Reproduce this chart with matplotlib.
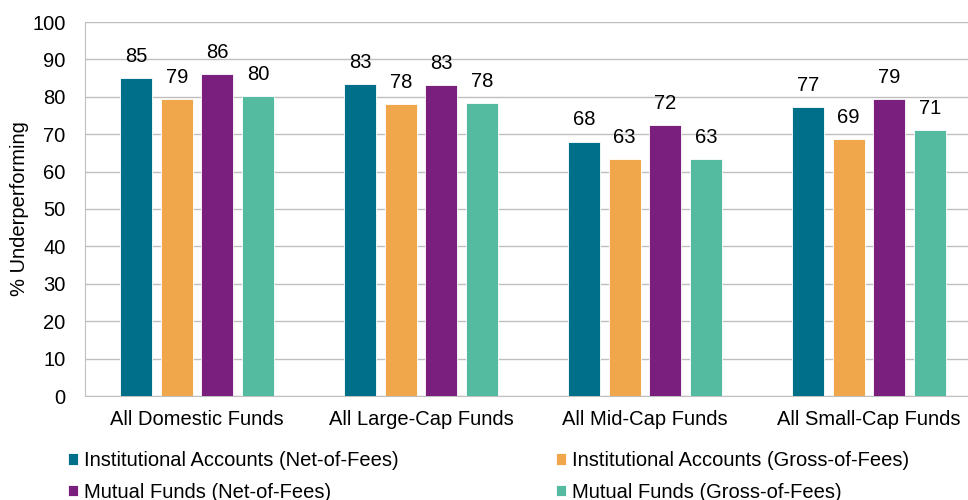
import matplotlib.pyplot as plt
import numpy as np

plt.rcParams['font.family'] = ['Liberation Sans', 'DejaVu Sans']

categories = ['All Domestic Funds', 'All Large-Cap Funds', 'All Mid-Cap Funds', 'All Small-Cap Funds']
series_names = ['Institutional Accounts (Net-of-Fees)', 'Institutional Accounts (Gross-of-Fees)',
                'Mutual Funds (Net-of-Fees)', 'Mutual Funds (Gross-of-Fees)']
inst_net = [85.0, 83.4, 68.0, 77.3]
inst_gross = [79.4, 78.0, 63.3, 68.7]
mf_net = [86.1, 83.1, 72.4, 79.3]
mf_gross = [80.1, 78.3, 63.3, 71.0]
colors = ['#006F8A', '#F0A64A', '#7B1F7E', '#55BBA0']

fig = plt.figure(figsize=(9.68, 5), dpi=100)
ax = fig.add_axes([85 / 968, 104 / 500, 896 / 968, 374 / 500])

x = np.arange(len(categories))
width = 0.143
step = 0.181
all_series = [inst_net, inst_gross, mf_net, mf_gross]
for i, vals in enumerate(all_series):
    pos = x + (i - 1.5) * step
    bars = ax.bar(pos, vals, width, color=colors[i], edgecolor='white', linewidth=0.6,
                  label=series_names[i], zorder=3)
    for b, v in zip(bars, vals):
        ax.text(b.get_x() + b.get_width() / 2, v + 3.3, '%d' % round(v),
                ha='center', va='bottom', fontsize=14.5)

ax.set_xlim(-0.5, 3.5)
ax.set_ylim(0, 100)
ax.set_yticks(range(0, 101, 10))
ax.set_xticks(x)
ax.set_xticklabels(categories, fontsize=14.5)
ax.tick_params(axis='y', labelsize=14.5, length=0, pad=14)
ax.tick_params(axis='x', length=0, pad=10)
ax.grid(axis='y', color='#bfbfbf', linewidth=1, zorder=0)
for s in ['top', 'right']:
    ax.spines[s].set_visible(False)
for s in ['left', 'bottom']:
    ax.spines[s].set_color('#bfbfbf')
ax.set_ylabel('% Underperforming', fontsize=14.5, labelpad=2)

handles, labels = ax.get_legend_handles_labels()
order = [0, 2, 1, 3]
fig.legend([handles[k] for k in order], [labels[k] for k in order], ncol=2,
           loc='lower left', bbox_to_anchor=(50 / 968, -20 / 500), frameon=False,
           fontsize=14.5, handlelength=0.5, handleheight=0.5, handletextpad=0.3,
           columnspacing=7.8, labelspacing=0.64)

fig.savefig('out.png', dpi=100)
